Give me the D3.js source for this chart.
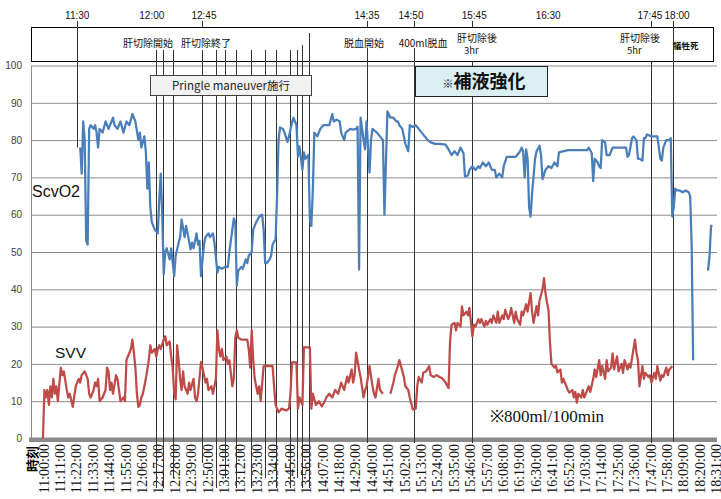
<!DOCTYPE html>
<html>
<head>
<meta charset="utf-8">
<script src="https://cdn.jsdelivr.net/npm/d3@7"></script>
<style>
  body { margin: 0; background: #fff; }
  svg { display: block; }
</style>
</head>
<body>
<script>
// minutes are counted from 11:00 on the category axis
const xLabels = ["11:00:00","11:11:00","11:22:00","11:33:00","11:44:00","11:55:00","12:06:00","12:17:00",
  "12:28:00","12:39:00","12:50:00","13:01:00","13:12:00","13:23:00","13:34:00","13:45:00","13:56:00",
  "14:07:00","14:18:00","14:29:00","14:40:00","14:51:00","15:02:00","15:13:00","15:24:00","15:35:00",
  "15:46:00","15:57:00","16:08:00","16:19:00","16:30:00","16:41:00","16:52:00","17:03:00","17:14:00",
  "17:25:00","17:36:00","17:47:00","17:58:00","18:09:00","18:20:00","18:31:00"];
const yTicks = [0,10,20,30,40,50,60,70,80,90,100];

// ScvO2 [minute, %]
const scvo2 = [[25,78],[26,71],[27,85],[28,80],[29,53],[30,52],[31,83],[32,84],[34,83],[35,84],[36,82],[37,78],
  [38,83],[40,82],[42,85],[44,83],[45,84],[47,86],[48,84],[50,83],[52,85],[54,82],[56,85],[58,84],[60,87],[61,86],
  [62,85],[64,80],[65,82],[66,78],[68,81],[69,77],[70,67],[71,74],[72,62],[73,58],[75,56],[77,55],[78,64],[79,71],
  [80,60],[81,44],[82,50],[83,51],[85,48],[86,51],[88,43.5],[89,49],[91,52.5],[92,54],[93,58.7],[95,54],[96,57],
  [97,55],[99,50.7],[100,52.5],[101,51],[103,55],[104,52],[105,53],[106,43.5],[108,52],[109,54],[111,55],[112,54],
  [114,55],[115,52.5],[117,44.5],[118,46],[120,45.5],[122,46],[124,46],[125,50],[126,53],[128,59],[129,58],[130,41],
  [131,45],[133,46],[134,45.5],[136,48],[137,47],[138,49],[140,50],[141,56],[143,58],[144,58.7],[145,59.5],[147,60],
  [148,56],[149,47],[150,47],[152,48],[153,49],[154,52],[156,53.4],[157,65],[158,80],[159,83.4],[161,83],[162,82],
  [164,79.5],[165,81],[167,84.7],[168,86],[170,84],[171,75.6],[172,78.3],[174,72],[175,76.7],[176,75],[178,76],
  [179,58.7],[180,57],[181,66.8],[182,82],[184,81],[186,83],[188,84],[190,84],[192,84],[194,87],[195,85],[197,85.5],
  [199,85],[200,82],[202,80],[203,82],[206,83],[208,82.8],[210,83],[211,83.6],[212,45.3],[213,86],[215,80],
  [216,77.5],[217,85],[219,71.3],[220,80],[221,83],[224,82],[226,81],[228,80],[229,60],[231,87.7],[233,86],[235,86],
  [237,85],[238,85],[239,84],[241,83],[242,81],[243,79],[245,77],[246,84],[248,83.5],[250,84],[252,83],[254,82],
  [256,81],[258,80],[260,79.4],[263,79],[266,79],[270,78.8],[272,77.5],[274,76],[276,77],[278,76],[280,78],
  [282,76.5],[283,70.2],[285,70.5],[286,72],[288,73],[290,72],[292,73],[293,72.5],[295,74],[297,73],[299,74],
  [301,72],[303,72],[304,70],[306,71],[308,70],[309,73],[311,75.5],[314,75.5],[317,75.5],[318,76],[320,77],[321,78],
  [322,77],[323,70],[324,77.5],[325,75],[326,62],[327,59.5],[328,65.7],[330,75],[331,77],[333,78.5],[334,76],
  [335,69.5],[337,72],[339,73],[341,72.5],[343,74],[345,73],[346,76.7],[352,77.3],[357,77.3],[362,77.3],[365,77.3],
  [366,78],[368,76.5],[369,69],[370,75],[372,74],[373,73],[374,72.5],[375,80],[377,79.4],[378,76],[380,76],[382,78],
  [386,78],[388,78],[391,78],[392,75.5],[393,76],[395,80.5],[396,81],[398,80],[399,75],[400,75],[402,74.5],
  [403,80.5],[404,80.5],[405,81.5],[408,81],[411,81],[412,81],[414,75],[415,74.5],[416,78],[418,80],[420,80],
  [421,80.5],[422,59.5],[423,62],[424,67],[425,66.5],[427,66.5],[429,66],[431,66.5],[433,66],[434,65],[435,52],
  [436,21],[437,null],[446,45],[447,49],[448,57],[449,57]];

// SVV [minute, %]
const svv = [[0,0],[1,13],[2,11],[3,13],[4,9],[5,14],[6,11],[7,16],[8,12],[9,14],[10,10],[12,19],[13,17],[14,18],
  [16,13],[17,11],[18,12],[20,8.5],[22,14],[24,16],[25,15],[26,17],[28,18],[30,16],[31,12],[32,11],[34,13],[35,15],
  [36,14],[37,16],[38,10],[40,11],[42,13],[43,19],[44,18],[45,13],[46,15],[47,12],[49,17],[50,16],[52,10],[54,11],
  [55,10],[56,21],[58,23],[59,24],[60,26.5],[61,23],[62,19],[63,12],[64,8.5],[65,9],[66,11],[67,12],[68,14],[69,16],
  [71,21],[72,25],[73,23],[75,24],[76,22],[77,24],[78,25],[79,24],[81,26.5],[82,27.4],[83,25],[85,26],[86,22],
  [87,19],[88,12],[89,10.5],[90,25],[91,21],[92,16],[93,13],[94,18],[95,14],[97,12],[98,15],[99,13],[101,16],
  [102,11],[103,10],[104,12],[106,20.5],[107,19],[109,15],[110,16],[111,13],[113,14],[114,12],[116,16],[117,29],
  [118,24],[119,22],[120,24],[121,21],[123,22],[124,20],[125,21],[127,14],[128,16],[129,27],[130,29],[131,27],
  [133,26.5],[135,26.5],[137,26.5],[138,24],[139,19],[140,29],[141,21],[142,16],[144,12],[145,14],[146,10],
  [148,19.4],[151,19.4],[154,19.4],[155,14],[156,9],[158,7],[160,8],[163,7.5],[165,8],[166,12],[167,20.4],
  [170,20.4],[171,8],[172,11],[174,9],[175,24.4],[179,24.4],[180,8],[181,12],[183,9],[185,10],[187,8.6],[189,10],
  [190,11],[192,12],[194,11],[196,13],[198,12],[200,15],[202,13],[204,16.6],[205,15],[207,18.5],[208,15],[209,17],
  [210,23],[212,18.5],[213,16.5],[215,11],[216,13],[217,14],[219,19.4],[221,14],[222,12],[223,11],[225,16],
  [226,13],[228,12],[230,null],[233,12],[235,15],[236,17],[238,19.4],[239,21],[242,16.6],[243,14],[245,13],
  [246,11],[248,7.8],[250,8],[251,14],[252,16.5],[254,15],[255,17.6],[257,18],[259,19.4],[260,17],[262,16.5],
  [264,17],[266,16.5],[268,16],[270,15],[272,13.5],[273,26],[274,30.5],[276,31],[277,29],[278,31],[280,30],
  [281,35.4],[282,33],[284,34],[285,33],[286,35],[288,27.4],[289,30.5],[290,30],[292,32],[293,31],[294,32],[296,30],
  [297,31.5],[298,30.5],[300,32],[301,31],[302,33],[304,31],[305,34],[306,31],[308,33],[309,32],[310,34.5],[312,32],
  [313,33],[314,35],[316,31],[317,34],[318,32],[320,30.5],[321,34],[322,33],[324,36],[325,34],[327,39],[328,34],
  [329,31],[331,35.5],[332,33],[333,37],[335,40],[336,43],[337,39],[338,36.5],[339,34.5],[340,25.7],[341,20],
  [343,19],[344,19.5],[345,17.7],[347,18.5],[348,15],[349,16],[351,14],[352,13],[353,12.3],[355,13],[356,11],
  [357,12.5],[358,9.6],[359,12],[361,11],[362,13],[363,11],[365,13],[366,14],[367,12.5],[369,16],[370,18.5],
  [371,16.5],[373,21],[374,17],[375,19.4],[377,16],[378,21],[379,18],[381,19],[382,22.8],[383,18.5],[385,22],
  [386,18],[388,20],[389,17.6],[390,21],[392,18.5],[393,20],[394,19],[396,24],[397,26.5],[398,23],[399,21],[400,14],
  [402,19.4],[403,16],[404,17.6],[406,16.5],[407,17],[408,15],[410,17.6],[411,16],[412,19.4],[414,15.5],[415,17],
  [416,16.5],[418,19],[419,17],[420,18.5],[422,19.4]];

// annotation times (axis minutes) and texts
const markerAt = [23,75.8,80.5,87.2,106.7,116.1,122.1,129.5,139.2,148.6,156,165.4,170.1,173.4,178.4,
  217.3,248.9,287.8,407.8,422.5];
const topTimeLabels = ["11:30","12:00","12:45","14:35","14:50","15:45","16:30","17:45","18:00"];
const topTimeAt = [23,73,108,217.3,246.8,289.2,338.8,407,425.2];
const eventLabels = ["肝切除開始","肝切除終了","脱血開始","400ml脱血","肝切除後","肝切除後","犠牲死"];
const eventSub = ["","","","","3hr","5hr",""];
const eventAt = [70.5,109.4,215.3,254.9,291.1,400.4,431];

const width = 721, height = 499;
const plotLeft = 31, plotRight = 717;
const sans = "'Liberation Sans', Arial, 'Noto Sans CJK JP', sans-serif";
const cjk = "'Noto Sans CJK JP', 'Liberation Sans', sans-serif";
const serif = "'Liberation Serif', 'Times New Roman', serif";

const toMin = s => { const p = s.split(":"); return (+p[0] - 11) * 60 + (+p[1]); };

const x = d3.scaleLinear().domain([-8, 452]).range([plotLeft, plotRight]);
const y = d3.scaleLinear().domain([0, 100]).range([438.5, 65.5]);

const svg = d3.select("body").append("svg")
  .attr("width", width).attr("height", height)
  .attr("viewBox", [0, 0, width, height]);

// y axis + gridlines
const gy = svg.append("g")
  .attr("transform", `translate(${plotLeft},0)`)
  .call(d3.axisLeft(y).tickValues(yTicks).tickSize(-(plotRight - plotLeft)).tickSizeOuter(0).tickPadding(9));
gy.select(".domain").attr("stroke", "#8c8c8c");
gy.selectAll(".tick line").attr("stroke", "#8c8c8c");
gy.attr("font-family", sans).attr("font-size", 10);
gy.selectAll(".tick text").attr("fill", "#404040");

// thick category axis bar
svg.append("rect")
  .attr("x", plotLeft - 2).attr("y", y(0) - 1)
  .attr("width", plotRight - plotLeft + 2).attr("height", 4.5)
  .attr("fill", "#8a8a8a");

// x axis labels (rotated)
const gx = svg.append("g")
  .attr("transform", "translate(1,444)")
  .call(d3.axisBottom(x).tickValues(xLabels.map(toMin)).tickFormat((d, i) => xLabels[i]).tickSize(0));
gx.select(".domain").remove();
gx.attr("font-family", serif).attr("font-size", 14);
gx.selectAll(".tick text")
  .attr("transform", "rotate(-90)")
  .attr("x", 0).attr("y", 0).attr("dy", "0.3em")
  .attr("text-anchor", "end")
  .attr("fill", "#111");

svg.append("text")
  .attr("transform", "translate(32,446) rotate(-90)")
  .attr("dy", "0.35em")
  .attr("text-anchor", "end")
  .attr("font-family", cjk).attr("font-size", 13).attr("font-weight", "bold")
  .text("時刻");

// header box
svg.append("rect")
  .attr("x", plotLeft + 0.5).attr("y", 27.5)
  .attr("width", 682).attr("height", 34)
  .attr("fill", "#fff").attr("stroke", "#000");

// annotation lines
const mk = svg.append("g").attr("stroke", "#333").attr("stroke-width", 1);
markerAt.forEach((m, i) => {
  const xx = Math.round(x(m)) + 0.5;
  let top, bottom, tick = false;
  if (i === 0) { top = 21; bottom = y(scvo2[0][1]); }
  else if (i < 15) {
    top = i === 13 ? 45 : i === 14 ? 33 : 50;
    bottom = i === 4 ? 463 : (i % 3 === 0 ? 478 : 488);
    tick = i === 4;
  } else if (i === 19) { top = 21; bottom = 442; }
  else {
    top = i >= 17 ? 61 : 48;
    bottom = 443;
    tick = true;
  }
  if (tick) mk.append("line").attr("x1", xx).attr("x2", xx).attr("y1", 21).attr("y2", 27);
  mk.append("line").attr("x1", xx).attr("x2", xx).attr("y1", top).attr("y2", bottom);
});

// series
const line = d3.line().defined(d => d[1] != null).x(d => x(d[0])).y(d => y(d[1]));
svg.append("path").datum(scvo2)
  .attr("d", line).attr("fill", "none")
  .attr("stroke", "#4a7ebb").attr("stroke-width", 2.25).attr("stroke-linejoin", "round");
svg.append("path").datum(svv)
  .attr("d", line).attr("fill", "none")
  .attr("stroke", "#be4b48").attr("stroke-width", 2.25).attr("stroke-linejoin", "round");

// header texts
svg.append("g").attr("font-family", sans).attr("font-size", 10).attr("text-anchor", "middle").attr("fill", "#111")
  .selectAll("text").data(topTimeLabels).join("text")
  .attr("x", (d, i) => x(topTimeAt[i])).attr("y", 19)
  .text(d => d);

const ev = svg.append("g").attr("font-family", cjk).attr("font-size", 10).attr("fill", "#111");
eventLabels.forEach((t, i) => {
  const cx = x(eventAt[i]);
  const two = eventSub[i] !== "";
  const last = i === eventLabels.length - 1;
  ev.append("text").attr("x", cx).attr("y", two ? 41.5 : last ? 49 : 47)
    .attr("text-anchor", "middle")
    .attr("font-size", last ? 8.5 : 10).attr("font-weight", last ? "bold" : null)
    .text(t);
  if (two) ev.append("text").attr("x", cx - 13).attr("y", 54).attr("font-size", 9.5).text(eventSub[i]);
});

// callout boxes
svg.append("rect").attr("x", 150.5).attr("y", 75.5).attr("width", 161).attr("height", 20)
  .attr("fill", "#f2f2f2").attr("stroke", "#404040");
svg.append("text").attr("x", 231).attr("y", 90).attr("text-anchor", "middle")
  .attr("font-family", cjk).attr("font-size", 11.5).attr("fill", "#222")
  .text("Pringle maneuver施行");

svg.append("rect").attr("x", 415.5).attr("y", 66.5).attr("width", 132).attr("height", 30)
  .attr("fill", "#dbeef4").attr("stroke", "#222");
const hb = svg.append("text").attr("x", 484).attr("y", 88).attr("text-anchor", "middle")
  .attr("font-family", cjk).attr("fill", "#111");
hb.append("tspan").attr("font-size", 11).text("※");
hb.append("tspan").attr("font-size", 18).attr("font-weight", "bold").text("補液強化");

// series labels and note
svg.append("text").attr("x", 32).attr("y", 197)
  .attr("font-family", sans).attr("font-size", 16).attr("fill", "#111").text("ScvO2");
svg.append("text").attr("x", 55).attr("y", 358)
  .attr("font-family", sans).attr("font-size", 15.5).attr("fill", "#111").text("SVV");
svg.append("text").attr("x", 490).attr("y", 422)
  .attr("font-family", serif).attr("font-size", 17).attr("fill", "#111").text("※800ml/100min");
</script>
</body>
</html>
